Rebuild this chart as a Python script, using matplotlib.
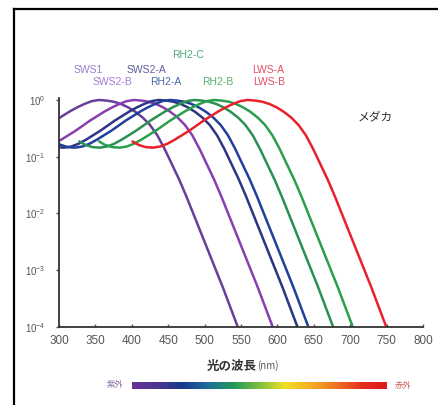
import numpy as np
import matplotlib
matplotlib.use("Agg")
import matplotlib.pyplot as plt
from matplotlib.lines import Line2D
from matplotlib.colors import LinearSegmentedColormap

plt.rcParams['font.family'] = ['Liberation Sans', 'Noto Sans CJK JP', 'DejaVu Sans']
plt.rcParams['mathtext.fontset'] = 'custom'
plt.rcParams['mathtext.rm'] = 'Liberation Sans'
plt.rcParams['mathtext.it'] = 'Liberation Sans'

# ---- data ----
opsins = ["SWS1", "SWS2-B", "SWS2-A", "RH2-A", "RH2-C", "RH2-B", "LWS"]
peak_nm = [355, 403, 437, 452, 486, 513, 559]
# common absorbance shape: offset from peak (nm) and log10 relative absorbance
shape_offset = [-158, -150, -140, -130, -120, -110, -100, -90, -80, -70, -60, -50,
                -40, -30, -20, -10, 0, 10, 20, 30, 40, 50, 60, 70, 80, 90, 100,
                110, 120, 130, 140, 150, 160, 170, 180, 190, 196]
shape_log = [-0.73, -0.79, -0.83, -0.84, -0.82, -0.77, -0.70, -0.62, -0.54, -0.45,
             -0.36, -0.28, -0.20, -0.13, -0.07, -0.02, 0.0, -0.01, -0.03, -0.07,
             -0.13, -0.21, -0.31, -0.44, -0.62, -0.86, -1.13, -1.40, -1.70, -2.02,
             -2.34, -2.66, -2.98, -3.30, -3.64, -3.98, -4.18]
x_ticks = [300, 350, 400, 450, 500, 550, 600, 650, 700, 750, 800]
y_ticks = [1e-4, 1e-3, 1e-2, 1e-1, 1e0]
y_ticklabels = [r'$10^{-4}$', r'$10^{-3}$', r'$10^{-2}$', r'$10^{-1}$', r'$10^{0}$']

line_colors = ["#663f98", "#8a3fb0", "#2b3582", "#20409c", "#2a9152", "#28a04c", "#e8212b"]

label_texts = ["RH2-C", "SWS1", "SWS2-A", "LWS-A", "SWS2-B", "RH2-A", "RH2-B", "LWS-B"]
label_colors = ["#4fa47e", "#9a7fcc", "#5f5f9c", "#e25062", "#a57bd2", "#4a68a8", "#52b26c", "#e25062"]
label_px = [(188, 55), (88, 70), (146, 70), (268, 70), (112, 82), (166, 82), (218, 82), (269, 82)]

spectrum_colors = ["#6a3392", "#4a3592", "#173c8e", "#1f6f9a", "#219a58", "#7cc040",
                   "#efe024", "#f4b025", "#ef7422", "#e4301e", "#dd1a1c"]

W, H = 438, 405
fig = plt.figure(figsize=(W / 100, H / 100), dpi=100)
fig.patch.set_facecolor("white")

def fx(px):
    return px / W

def fy(py):
    return 1 - py / H

# frame lines (left and top)
fig.add_artist(Line2D([fx(14), fx(14)], [fy(9), fy(405)], color="black", lw=1.6,
                      transform=fig.transFigure))
fig.add_artist(Line2D([fx(14), fx(438)], [fy(9), fy(9)], color="black", lw=1.6,
                      transform=fig.transFigure))

ax_left, ax_right, ax_top, ax_bottom = 59, 423, 98, 327
ax = fig.add_axes([fx(ax_left), fy(ax_bottom), fx(ax_right - ax_left), (ax_bottom - ax_top) / H])
ax.set_yscale("log")
ax.set_xlim(300, 800)
ax.set_ylim(1e-4, 10 ** 0.035)

offs = np.array(shape_offset, dtype=float)
vals = 10 ** np.array(shape_log)
for pk, col in zip(peak_nm, line_colors):
    ax.plot(pk + offs, vals, color=col, lw=1.8, solid_capstyle="round")

for s in ["top", "right"]:
    ax.spines[s].set_visible(False)
for s in ["left", "bottom"]:
    ax.spines[s].set_color("#333333")
    ax.spines[s].set_linewidth(1.3)

ax.set_xticks(x_ticks)
ax.set_xticklabels([str(v) for v in x_ticks])
ax.set_yticks(y_ticks)
ax.set_yticklabels(y_ticklabels)
ax.minorticks_off()
ax.tick_params(axis="x", direction="in", length=2.5, width=1, color="#555555",
               labelsize=8.5, labelcolor="#555555", pad=6)
ax.tick_params(axis="y", direction="out", length=2, width=1, color="#555555",
               labelsize=7, labelcolor="#555555", pad=8)

# opsin labels
for t, c, (px, py) in zip(label_texts, label_colors, label_px):
    fig.text(fx(px), fy(py), t, color=c, fontsize=7.5, ha="center", va="center")

fig.text(fx(375), fy(117), "メダカ", fontsize=8.5, ha="center", va="center",
         color="#333333", style="italic", family=["Noto Sans CJK JP", "DejaVu Sans"])

fig.text(fx(257), fy(366), "光の波長", fontsize=9, ha="right", va="center",
         color="#333333", fontweight="bold", family=["Noto Sans CJK JP", "DejaVu Sans"])
fig.text(fx(257), fy(366), "(nm)", fontsize=7, ha="left", va="center",
         color="#555555", style="italic", family=["Noto Sans CJK JP", "DejaVu Sans"])

# spectrum bar
cax = fig.add_axes([fx(132), fy(389), fx(387 - 132), 7.5 / H])
cmap = LinearSegmentedColormap.from_list("spec", spectrum_colors)
cax.imshow(np.linspace(0, 1, 256)[None, :], aspect="auto", cmap=cmap,
           extent=[0, 1, 0, 1])
cax.set_axis_off()
fig.text(fx(115), fy(385), "紫外", fontsize=6, ha="center", va="center",
         color="#8a6a9a", family=["Noto Sans CJK JP", "DejaVu Sans"])
fig.text(fx(403), fy(385), "赤外", fontsize=6, ha="center", va="center",
         color="#c85a5a", family=["Noto Sans CJK JP", "DejaVu Sans"])

fig.savefig("out.png", dpi=100, facecolor="white")
